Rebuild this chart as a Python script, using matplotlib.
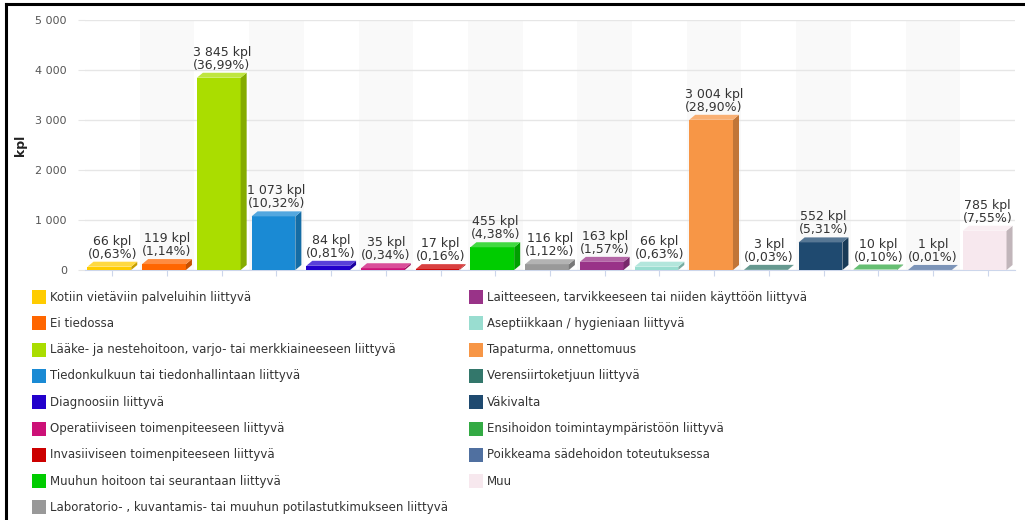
import matplotlib.pyplot as plt
from matplotlib.patches import Rectangle, Polygon
from matplotlib.lines import Line2D
from matplotlib.colors import to_rgb

categories = [
    "Kotiin vietäviin palveluihin liittyvä",
    "Ei tiedossa",
    "Lääke- ja nestehoitoon, varjo- tai merkkiaineeseen liittyvä",
    "Tiedonkulkuun tai tiedonhallintaan liittyvä",
    "Diagnoosiin liittyvä",
    "Operatiiviseen toimenpiteeseen liittyvä",
    "Invasiiviseen toimenpiteeseen liittyvä",
    "Muuhun hoitoon tai seurantaan liittyvä",
    "Laboratorio- , kuvantamis- tai muuhun potilastutkimukseen liittyvä",
    "Laitteeseen, tarvikkeeseen tai niiden käyttöön liittyvä",
    "Aseptiikkaan / hygieniaan liittyvä",
    "Tapaturma, onnettomuus",
    "Verensiirtoketjuun liittyvä",
    "Väkivalta",
    "Ensihoidon toimintaympäristöön liittyvä",
    "Poikkeama sädehoidon toteutuksessa",
    "Muu",
]
values = [66, 119, 3845, 1073, 84, 35, 17, 455, 116, 163, 66, 3004, 3, 552, 10, 1, 785]
pcts = ["0,63", "1,14", "36,99", "10,32", "0,81", "0,34", "0,16", "4,38", "1,12",
        "1,57", "0,63", "28,90", "0,03", "5,31", "0,10", "0,01", "7,55"]
colors = ["#ffcc00", "#ff6600", "#aadd00", "#1a8ad4", "#2200cc", "#cc1177", "#cc0000",
          "#00cc00", "#999999", "#993388", "#99ddd0", "#f79646", "#33776b", "#1f4a70",
          "#33aa44", "#5070a0", "#f7e8ee"]
yticks = [0, 1000, 2000, 3000, 4000, 5000]


def shade(c, f):
    r, g, b = to_rgb(c)
    if f < 1:
        return (r * f, g * f, b * f)
    f = f - 1
    return (r + (1 - r) * f, g + (1 - g) * f, b + (1 - b) * f)


fig = plt.figure(figsize=(10.25, 5.2), dpi=100)
ax = fig.add_axes([85 / 1025, 1 - 270 / 520, 930 / 1025, 250 / 520])

n = len(values)
ax.set_xlim(-0.5, n - 0.5)
ax.set_ylim(0, 5000)

# alternating column bands
for i in range(n):
    if i % 2 == 1:
        ax.axvspan(i - 0.5, i + 0.5, color="#f9f9f9", zorder=0, lw=0)

ax.set_yticks(yticks)
ax.set_yticklabels([f"{t:,}".replace(",", " ") for t in yticks], fontsize=8, color="#555555")
ax.grid(axis="y", color="#e6e6e6", lw=1, zorder=1)
ax.set_xticks(range(n))
ax.set_xticklabels([])
ax.tick_params(axis="x", length=4, color="#ccd6eb")
ax.tick_params(axis="y", length=5, color="#e6e6e6", pad=8)
for s in ["top", "right", "left"]:
    ax.spines[s].set_visible(False)
ax.spines["bottom"].set_color("#ccd6eb")
ax.set_ylabel("kpl", fontsize=9, fontweight="bold", color="#222222", labelpad=6)

w = 0.8
dx = 0.11
dy = 100
for i, (v, p, c) in enumerate(zip(values, pcts, colors)):
    x0 = i - (w + dx) / 2
    ax.add_patch(Rectangle((x0, 0), w, v, facecolor=c, edgecolor="none", zorder=3))
    ax.add_patch(Polygon([(x0 + w, 0), (x0 + w + dx, dy), (x0 + w + dx, v + dy), (x0 + w, v)],
                         closed=True, facecolor=shade(c, 0.78), edgecolor="none", zorder=3))
    ax.add_patch(Polygon([(x0, v), (x0 + dx, v + dy), (x0 + w + dx, v + dy), (x0 + w, v)],
                         closed=True, facecolor=shade(c, 1.25), edgecolor="none", zorder=3))
    lab = f"{v:,}".replace(",", " ") + " kpl\n(" + p + "%)"
    ax.text(i, v + dy + 20, lab, ha="center", va="bottom", fontsize=9,
            color="#333333", linespacing=1.0, zorder=4)

# legend, two columns
row_h = 26.3
for k, (name, c) in enumerate(zip(categories, colors)):
    if k < 9:
        xs, yc = 32, 297 + k * row_h
    else:
        xs, yc = 469, 297 + (k - 9) * row_h
    fig.add_artist(Rectangle((xs / 1025, 1 - (yc + 7) / 520), 14 / 1025, 14 / 520,
                             transform=fig.transFigure, facecolor=c, edgecolor="none"))
    fig.text((xs + 18) / 1025, 1 - yc / 520, name, fontsize=8.5, color="#333333",
             ha="left", va="center")

# outer frame
fig.add_artist(Line2D([6 / 1025, 1], [1 - 4 / 520, 1 - 4 / 520], transform=fig.transFigure,
                      color="black", lw=2.2))
fig.add_artist(Line2D([6 / 1025, 6 / 1025], [0, 1 - 4 / 520], transform=fig.transFigure,
                      color="black", lw=2.2))

fig.savefig("out.png", dpi=100, facecolor="white")
